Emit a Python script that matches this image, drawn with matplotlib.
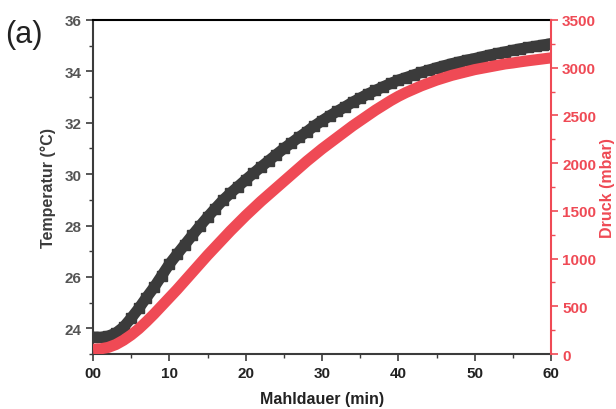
import matplotlib
matplotlib.use("Agg")
import matplotlib.pyplot as plt
from matplotlib.ticker import MultipleLocator

plt.rcParams['font.family'] = ['Liberation Sans', 'DejaVu Sans']

# milling time in minutes
zeit = list(range(0, 61))

# temperature in degC
temperatur = [23.66, 23.65, 23.70, 23.82, 24.05, 24.40, 24.78, 25.20, 25.60, 26.05,
              26.50, 26.88, 27.25, 27.62, 27.98, 28.33, 28.66, 28.98, 29.26, 29.52,
              29.78, 30.03, 30.28, 30.52, 30.76, 31.00, 31.22, 31.44, 31.65, 31.88,
              32.08, 32.27, 32.45, 32.62, 32.80, 32.96, 33.12, 33.26, 33.40, 33.53,
              33.66, 33.76, 33.86, 33.96, 34.05, 34.14, 34.22, 34.30, 34.37, 34.44,
              34.50, 34.57, 34.64, 34.70, 34.76, 34.82, 34.88, 34.93, 34.98, 35.03,
              35.08]

# pressure in mbar
druck = [50, 55, 70, 100, 145, 200, 265, 340, 420, 505,
         590, 675, 765, 855, 945, 1035, 1120, 1205, 1290, 1370,
         1450, 1525, 1600, 1670, 1740, 1810, 1880, 1950, 2020, 2085,
         2150, 2210, 2270, 2330, 2390, 2445, 2500, 2555, 2605, 2655,
         2700, 2740, 2775, 2810, 2840, 2870, 2895, 2920, 2940, 2960,
         2980, 2995, 3010, 3025, 3040, 3050, 3062, 3073, 3083, 3093,
         3103]

x_ticks = [0, 10, 20, 30, 40, 50, 60]
x_labels = ['00', '10', '20', '30', '40', '50', '60']

grau = '#3b3b3b'
rot = '#ef4a55'

fig = plt.figure(figsize=(6.16, 4.10), dpi=100)
ax = fig.add_axes([0.151, 0.134, 0.7435, 0.8148])
ax2 = ax.twinx()

# black series: thick line plus small square markers for the stepped edge
ax.plot(zeit, temperatur, color=grau, lw=8, marker='s', ms=7.5,
        mec=grau, mfc=grau, solid_capstyle='butt', zorder=2)
ax2.plot(zeit, druck, color=rot, lw=8, solid_capstyle='butt', zorder=3)

ax.set_xlim(0, 60)
ax.set_ylim(23, 36)
ax2.set_ylim(0, 3500)

ax.set_xticks(x_ticks)
ax.set_xticklabels(x_labels)
ax.xaxis.set_minor_locator(MultipleLocator(5))
ax.set_yticks([24, 26, 28, 30, 32, 34, 36])
ax.yaxis.set_minor_locator(MultipleLocator(1))
ax2.yaxis.set_major_locator(MultipleLocator(500))
ax2.yaxis.set_minor_locator(MultipleLocator(250))

for a in (ax, ax2):
    a.tick_params(which='major', direction='out', length=5, width=1.2)
    a.tick_params(which='minor', direction='out', length=3, width=1.0)

ax.tick_params(axis='both', which='both', colors=grau, labelsize=11)
ax2.tick_params(axis='y', which='both', colors=rot, labelsize=11, pad=3)
ax.tick_params(axis='y', labelcolor='#555555')
ax.tick_params(axis='x', labelcolor='#222222')

for lab in ax.get_xticklabels() + ax.get_yticklabels() + ax2.get_yticklabels():
    lab.set_fontweight('bold')

for s in ('left', 'bottom'):
    ax.spines[s].set_color(grau)
    ax.spines[s].set_linewidth(1.5)
ax.spines['top'].set_color('black')
ax.spines['top'].set_linewidth(1.5)
ax.spines['right'].set_visible(False)
ax2.spines['left'].set_visible(False)
ax2.spines['top'].set_visible(False)
ax2.spines['bottom'].set_visible(False)
ax2.spines['right'].set_color(rot)
ax2.spines['right'].set_linewidth(1.5)

ax.set_xlabel('Mahldauer (min)', fontsize=11.5, fontweight='bold', color='#222222', labelpad=8)
ax.set_ylabel('Temperatur (°C)', fontsize=11.5, fontweight='bold', color=grau, labelpad=6)
ax2.set_ylabel('Druck (mbar)', fontsize=11.5, fontweight='bold', color=rot, labelpad=3)

fig.text(0.008, 0.895, '(a)', fontsize=22, color='#222222')

fig.savefig('out.png', dpi=100)
